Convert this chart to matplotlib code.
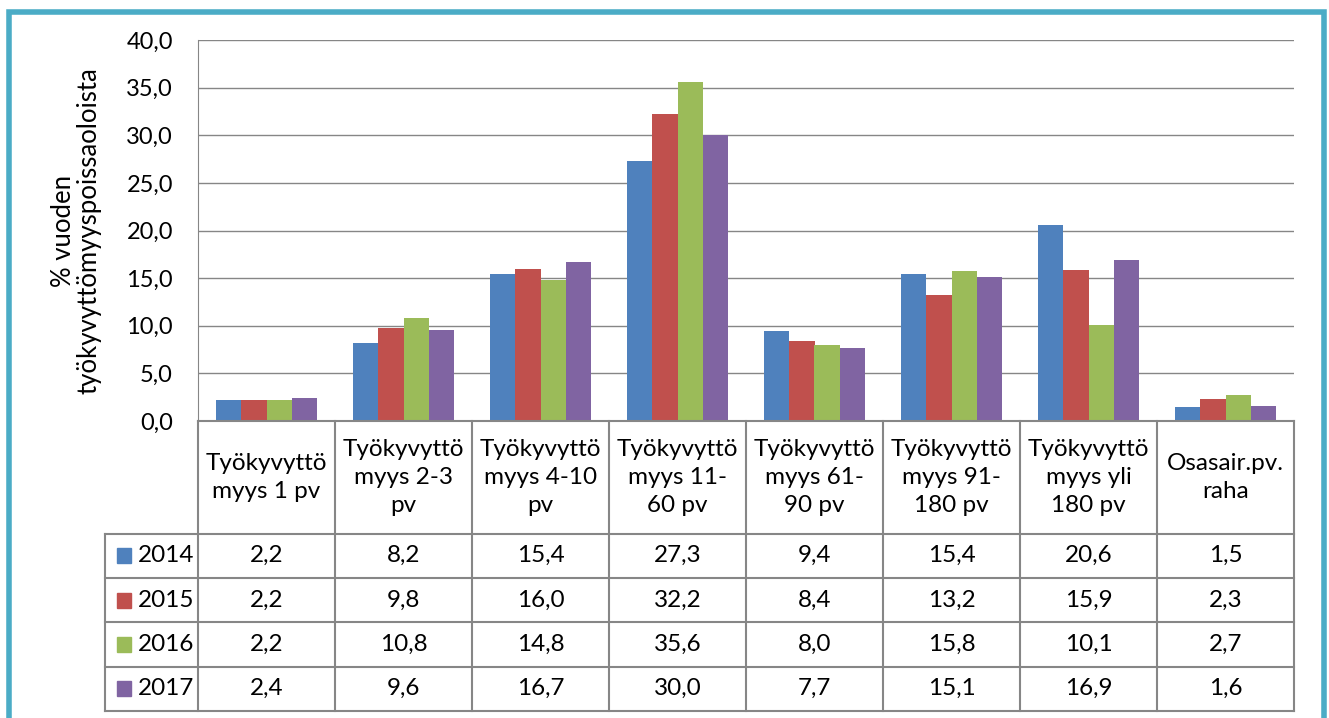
import matplotlib.pyplot as plt
import matplotlib.patches as mpatches
from matplotlib.ticker import FuncFormatter, MultipleLocator

plt.rcParams['font.family'] = ['Lato', 'DejaVu Sans']

categories = ["Työkyvyttö\nmyys 1 pv", "Työkyvyttö\nmyys 2-3\npv", "Työkyvyttö\nmyys 4-10\npv",
              "Työkyvyttö\nmyys 11-\n60 pv", "Työkyvyttö\nmyys 61-\n90 pv", "Työkyvyttö\nmyys 91-\n180 pv",
              "Työkyvyttö\nmyys yli\n180 pv", "Osasair.pv.\nraha"]
years = ["2014", "2015", "2016", "2017"]
v2014 = [2.2, 8.2, 15.4, 27.3, 9.4, 15.4, 20.6, 1.5]
v2015 = [2.2, 9.8, 16.0, 32.2, 8.4, 13.2, 15.9, 2.3]
v2016 = [2.2, 10.8, 14.8, 35.6, 8.0, 15.8, 10.1, 2.7]
v2017 = [2.4, 9.6, 16.7, 30.0, 7.7, 15.1, 16.9, 1.6]
series = [v2014, v2015, v2016, v2017]
colors = ["#4F81BD", "#C0504D", "#9BBB59", "#8064A2"]

W, H = 1329, 718
fig = plt.figure(figsize=(W / 100, H / 100), dpi=100)

# frame
fig.patches.append(mpatches.Rectangle((9 / W, -0.05), 1315 / W, 1.05 - 12 / H,
                                      transform=fig.transFigure, fill=False,
                                      edgecolor="#4BACC6", linewidth=4))

grid_c = "#868686"
left, right = 198, 1294
top, bottom = 40, 421
ax = fig.add_axes([left / W, 1 - bottom / H, (right - left) / W, (bottom - top) / H])

n = len(categories)
bw = 0.1825
for i, (vals, c) in enumerate(zip(series, colors)):
    xs = [k + (i - 1.5) * bw for k in range(n)]
    ax.bar(xs, vals, width=bw, color=c, zorder=3)

ax.set_xlim(-0.5, n - 0.5)
ax.set_ylim(0, 40)
ax.yaxis.set_major_locator(MultipleLocator(5))
ax.yaxis.set_major_formatter(FuncFormatter(lambda v, p: f"{v:.1f}".replace(".", ",")))
ax.grid(axis="y", color=grid_c, linewidth=1, zorder=0)
ax.set_xticks([])
ax.tick_params(axis="y", length=0, pad=18, labelsize=17)
for s in ["top", "right", "bottom"]:
    ax.spines[s].set_visible(False)
ax.spines["left"].set_color(grid_c)
ax.set_ylabel("% vuoden\ntyökyvyttömyyspoissaoloista", fontsize=18.5, labelpad=18, linespacing=1.0)

# data table below the axes
tb = 711
tax = fig.add_axes([left / W, 1 - tb / H, (right - left) / W, (tb - bottom) / H])
header_h = 113 / 44.5
nrows = len(years)
tax.set_xlim(-0.5, n - 0.5)
tax.set_ylim(header_h + nrows, 0)
tax.axis("off")
leg_x = -0.5 - 93 / 137

lk = dict(color=grid_c, linewidth=1.5, clip_on=False)
# horizontal lines
tax.plot([-0.5, n - 0.5], [0, 0], **lk)
for r in range(nrows + 1):
    tax.plot([leg_x, n - 0.5], [header_h + r, header_h + r], **lk)
# vertical lines
for k in range(n + 1):
    tax.plot([k - 0.5, k - 0.5], [0, header_h + nrows], **lk)
tax.plot([leg_x, leg_x], [header_h, header_h + nrows], **lk)

for k, cat in enumerate(categories):
    tax.text(k, header_h / 2, cat, ha="center", va="center", fontsize=17.5, linespacing=1.4)

for r, (yr, vals, c) in enumerate(zip(years, series, colors)):
    yc = header_h + r + 0.5
    tax.add_patch(mpatches.Rectangle((leg_x + 0.09, yc - 0.17), 0.1, 0.34, color=c, clip_on=False))
    tax.text(leg_x + 0.24, yc, yr, ha="left", va="center", fontsize=17.5, clip_on=False)
    for k, v in enumerate(vals):
        tax.text(k, yc, f"{v:.1f}".replace(".", ","), ha="center", va="center", fontsize=17.5)

fig.savefig("out.png", dpi=100)
